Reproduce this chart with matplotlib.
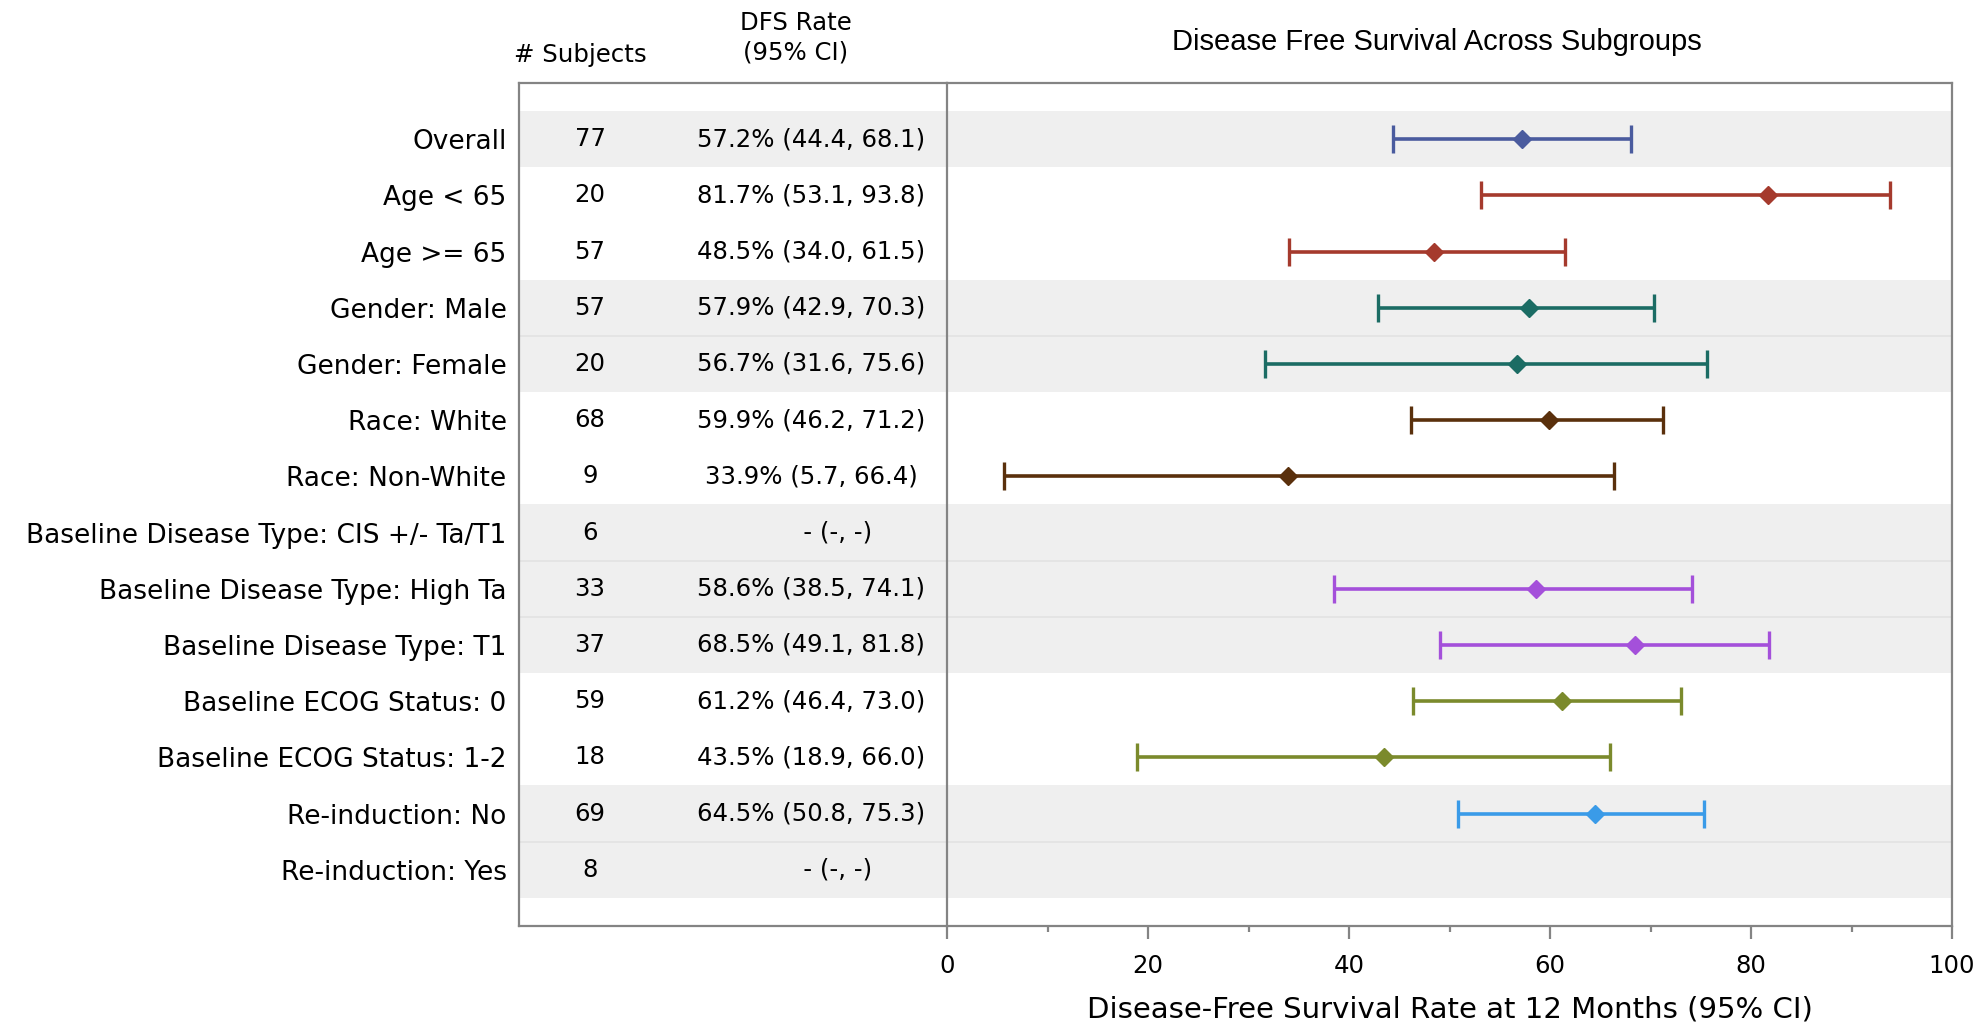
import numpy as np
import matplotlib
matplotlib.use('Agg')
import matplotlib.pyplot as plt
from matplotlib.ticker import MultipleLocator

# ── data ──
labels = [
    'Overall', 'Age < 65', 'Age >= 65', 'Gender: Male', 'Gender: Female',
    'Race: White', 'Race: Non-White', 'Baseline Disease Type: CIS +/- Ta/T1',
    'Baseline Disease Type: High Ta', 'Baseline Disease Type: T1',
    'Baseline ECOG Status: 0', 'Baseline ECOG Status: 1-2',
    'Re-induction: No', 'Re-induction: Yes',
]
n_subjects = [77, 20, 57, 57, 20, 68, 9, 6, 33, 37, 59, 18, 69, 8]
rate  = [57.2, 81.7, 48.5, 57.9, 56.7, 59.9, 33.9, np.nan, 58.6, 68.5, 61.2, 43.5, 64.5, np.nan]
lower = [44.4, 53.1, 34.0, 42.9, 31.6, 46.2, 5.7, np.nan, 38.5, 49.1, 46.4, 18.9, 50.8, np.nan]
upper = [68.1, 93.8, 61.5, 70.3, 75.6, 71.2, 66.4, np.nan, 74.1, 81.8, 73.0, 66.0, 75.3, np.nan]
group = [0, 1, 1, 2, 2, 3, 3, 4, 4, 4, 5, 5, 6, 6]
group_colors = ['#4a5b9e', '#a53a2d', '#1b6c64', '#5a300c', '#a450da', '#7b8a2c', '#3a9be8']

# ── layout (pixels of a 1985x1026 canvas) ──
W, H, DPI = 1985, 1026, 100
TAB_L, SEP, PLOT_R = 519, 947, 1952
TOP, BOT = 83, 926
COL_N, COL_DFS = 71, 292          # text columns, px from table left
BAND = '#efefef'
EDGE = '#848484'
FONT = 17.6
LABEL_FONT = 19

plt.rcParams['font.family'] = 'DejaVu Sans'

fig = plt.figure(figsize=(W / DPI, H / DPI), dpi=DPI)
fb, fh = (H - BOT) / H, (BOT - TOP) / H
ax_tab = fig.add_axes([TAB_L / W, fb, (SEP - TAB_L) / W, fh])
ax = fig.add_axes([SEP / W, fb, (PLOT_R - SEP) / W, fh])

n = len(labels)
ypos = np.arange(n)

for a in (ax_tab, ax):
    a.set_ylim(n, -1)
    # shaded groups
    for i in range(n):
        if group[i] % 2 == 0:
            a.axhspan(i - 0.5, i + 0.5, color=BAND, lw=0, zorder=0)
            if i > 0 and group[i - 1] == group[i]:
                a.axhline(i - 0.5, color='#e2e2e2', lw=1.2, zorder=1)
    for s in a.spines.values():
        s.set_color(EDGE)
        s.set_linewidth(1.6)

# ── table ──
ax_tab.set_xlim(0, SEP - TAB_L)
ax_tab.set_xticks([])
ax_tab.set_yticks(ypos)
ax_tab.set_yticklabels(labels, fontsize=LABEL_FONT)
ax_tab.tick_params(axis='y', length=0, pad=9)
ax_tab.spines['right'].set_visible(False)   # the plot's left spine is the divider
for i in range(n):
    ax_tab.text(COL_N, i, str(n_subjects[i]), ha='center', va='center', fontsize=FONT)
    if np.isnan(rate[i]):
        s = '       - (-, -)'
    else:
        s = f'{rate[i]:.1f}% ({lower[i]:.1f}, {upper[i]:.1f})'
    ax_tab.text(COL_DFS, i, s, ha='center', va='center', fontsize=FONT)

fig.text(580 / W, 1 - 55 / H, '# Subjects', ha='center', va='center', fontsize=FONT)
fig.text(796 / W, 1 - 38 / H, 'DFS Rate\n(95% CI)', ha='center', va='center',
         fontsize=FONT, linespacing=1.3)

# ── forest plot ──
for i in range(n):
    if np.isnan(rate[i]):
        continue
    c = group_colors[group[i]]
    ax.errorbar(rate[i], i, xerr=[[rate[i] - lower[i]], [upper[i] - rate[i]]],
                fmt='D', color=c, ecolor=c, markersize=9.5, elinewidth=2.6,
                capsize=10, capthick=2.4, zorder=3)

ax.set_xlim(0, 100)
ax.set_yticks([])
ax.xaxis.set_major_locator(MultipleLocator(20))
ax.xaxis.set_minor_locator(MultipleLocator(10))
ax.tick_params(axis='x', which='major', direction='out', length=9.5, width=1.6,
               color=EDGE, labelsize=FONT, pad=11)
ax.tick_params(axis='x', which='minor', direction='out', length=4.5, width=1.6, color=EDGE)
ax.set_xlabel('Disease-Free Survival Rate at 12 Months (95% CI)', fontsize=21, labelpad=12)

fig.text(1437 / W, 1 - 42 / H, 'Disease Free Survival Across Subgroups',
         ha='center', va='center', fontsize=21, family='Liberation Sans')

fig.savefig('out.png', dpi=DPI, facecolor='white')
